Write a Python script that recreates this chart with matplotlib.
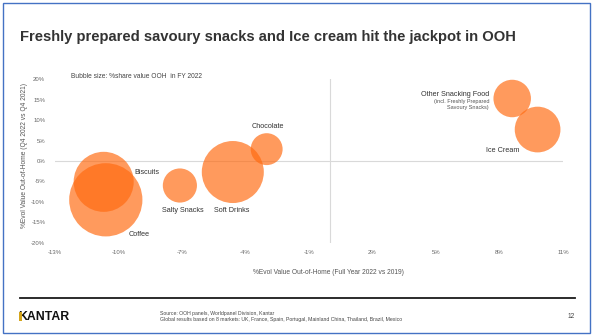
import matplotlib
matplotlib.use("Agg")
import matplotlib.pyplot as plt
from matplotlib.patches import Rectangle
from matplotlib.ticker import FixedLocator, FuncFormatter

# Category data
categories = ["Coffee", "Biscuits", "Salty Snacks", "Soft Drinks", "Chocolate",
              "Other Snacking Food", "Ice Cream"]
evol_fy_2022_vs_2019 = [-10.6, -10.7, -7.1, -4.6, -3.0, 8.6, 9.8]   # x, %
evol_q4_2022_vs_q4_2021 = [-9.5, -5.1, -6.0, -2.7, 2.9, 15.3, 7.7]  # y, %
share_value_ooh = [29.0, 19.5, 6.3, 20.8, 5.5, 7.6, 11.3]            # bubble size, %

x_ticks = [-13, -10, -7, -4, -1, 2, 5, 8, 11]
y_ticks = [20, 15, 10, 5, 0, -5, -10, -15, -20]

W, H = 594, 336
DPI = 100
fig = plt.figure(figsize=(W / DPI, H / DPI), dpi=DPI)
fig.patch.set_facecolor("white")
plt.rcParams["font.family"] = ["Liberation Sans", "DejaVu Sans"]


def fx(px):
    return px / W


def fy(py):
    return 1 - py / H


# Slide frame
fig.patches.append(Rectangle((fx(3), fy(333)), fx(587), (330) / H, transform=fig.transFigure,
                             fill=False, edgecolor="#4472C4", linewidth=1.0))

# Title
fig.text(fx(20), fy(37), "Freshly prepared savoury snacks and Ice cream hit the jackpot in OOH",
         fontsize=10.6, fontweight="bold", color="#333333", va="center", ha="left")

# Plot area
left, right, top, bottom = 55, 563, 79.3, 242.7
ax = fig.add_axes([fx(left), fy(bottom), (right - left) / W, (bottom - top) / H])
ax.set_xlim(-13, 11)
ax.set_ylim(-20, 20)
for s in ax.spines.values():
    s.set_visible(False)
ax.axhline(0, color="#D9D9D9", linewidth=0.8, zorder=0)
ax.axvline(0, color="#D9D9D9", linewidth=0.8, zorder=0)

px_per_pt = DPI / 72.0
radius_px_per_sqrt_share = 6.8
sizes = [(2 * radius_px_per_sqrt_share * v ** 0.5 / px_per_pt) ** 2 for v in share_value_ooh]
ax.scatter(evol_fy_2022_vs_2019, evol_q4_2022_vs_q4_2021, s=sizes, color="#FF6A10",
           alpha=0.68, linewidths=0, zorder=2)

pct = FuncFormatter(lambda v, p: f"{int(v)}%")
ax.xaxis.set_major_locator(FixedLocator(x_ticks))
ax.yaxis.set_major_locator(FixedLocator(y_ticks))
ax.xaxis.set_major_formatter(pct)
ax.yaxis.set_major_formatter(pct)
ax.tick_params(axis="both", length=0, labelsize=4.3, labelcolor="#666666")
ax.tick_params(axis="x", pad=5.5)
ax.tick_params(axis="y", pad=7)

# Axis titles
fig.text(fx(328), fy(272), "%Evol Value Out-of-Home (Full Year 2022 vs 2019)",
         fontsize=4.8, color="#555555", ha="center", va="center")
fig.text(fx(25), fy(155), "%Evol Value Out-of-Home (Q4 2022 vs Q4 2021)",
         fontsize=4.8, color="#555555", ha="center", va="center", rotation=90)
fig.text(fx(71), fy(76), "Bubble size: %share value OOH  in FY 2022",
         fontsize=4.8, color="#444444", ha="left", va="center")

# Bubble labels
lab = dict(fontsize=5.2, color="#333333", va="center")
fig.text(fx(134), fy(172), "Biscuits", ha="left", **lab)
fig.text(fx(129), fy(234), "Coffee", ha="left", **lab)
fig.text(fx(162), fy(211), "Salty Snacks", ha="left", **lab)
fig.text(fx(232), fy(211), "Soft Drinks", ha="center", **lab)
fig.text(fx(268), fy(127), "Chocolate", ha="center", **lab)
fig.text(fx(489), fy(94), "Other Snacking Food", ha="right", **lab)
fig.text(fx(489), fy(101), "(incl. Freshly Prepared", ha="right", fontsize=4.0,
         color="#555555", va="center")
fig.text(fx(489), fy(107), "Savoury Snacks)", ha="right", fontsize=4.0,
         color="#555555", va="center")
fig.text(fx(486), fy(150), "Ice Cream", ha="left", **lab)

# Footer
fig.add_artist(plt.Line2D([fx(20), fx(575)], [fy(298), fy(298)], color="#1A1A1A",
                          linewidth=1.3, transform=fig.transFigure))
fig.text(fx(18.5), fy(320.5), "KANTAR", fontsize=8.8, fontweight="bold", color="#111111",
         ha="left", va="baseline")
fig.patches.append(Rectangle((fx(19.4), fy(320.5)), fx(2.1), 8.8 / H,
                             transform=fig.transFigure,
                             facecolor="#D4A51C", edgecolor="none", zorder=5))
fig.text(fx(160), fy(313), "Source: OOH panels, Worldpanel Division, Kantar",
         fontsize=3.7, color="#444444", ha="left", va="center")
fig.text(fx(160), fy(319.5),
         "Global results based on 8 markets: UK, France, Spain, Portugal, Mainland China, Thailand, Brazil, Mexico",
         fontsize=3.7, color="#444444", ha="left", va="center")
fig.text(fx(571), fy(317), "12", fontsize=4.8, color="#444444", ha="center", va="center")

fig.savefig("out.png", dpi=DPI, facecolor="white")
